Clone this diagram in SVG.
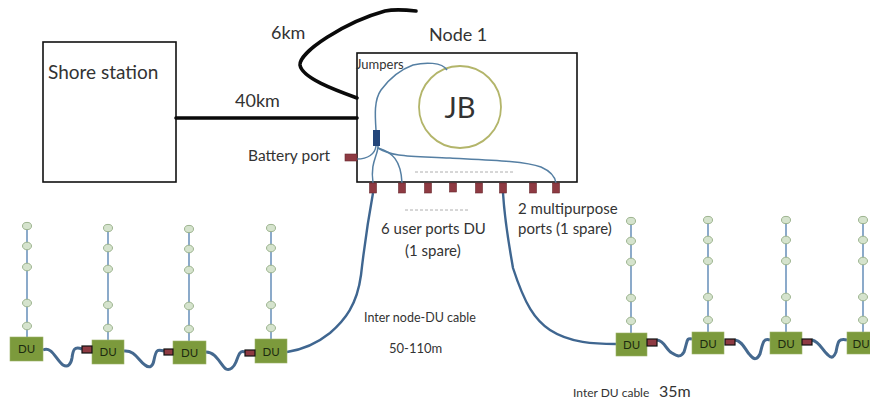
<svg xmlns="http://www.w3.org/2000/svg" width="870" height="405" viewBox="0 0 870 405">
<defs>
<style>
text{font-family:Lato,"Open Sans","Liberation Sans",sans-serif;fill:#333}
.box{fill:#fff;stroke:#111;stroke-width:1.6}
.thick{fill:none;stroke:#0a0a0a;stroke-width:3.6;stroke-linecap:round}
.thin{fill:none;stroke:#557fa3;stroke-width:1.5}
.cable{fill:none;stroke:#3f6690;stroke-width:2.4}
.wave{fill:none;stroke:#45698f;stroke-width:3}
.string{stroke:#6f95bd;stroke-width:1.6}
.bead{fill:#d5e3cd;stroke:#9db48f;stroke-width:1}
.du{fill:#7c9a3c;stroke:#9cb268;stroke-width:.6}
.dut{font-size:11.500px;fill:#1c2a10;text-anchor:middle}
.port{fill:#8e3a42;stroke:#6a2a30;stroke-width:.6}
.link{fill:#8e3a42;stroke:#111;stroke-width:1.2}
.dash{stroke:#999;stroke-width:.8;stroke-dasharray:3 2}
</style>
<g id="beads">
<line class="string" x1="0" y1="0" x2="0" y2="112"/>
<ellipse class="bead" cx="0" cy="0" rx="4.5" ry="3.6"/>
<ellipse class="bead" cx="0" cy="20" rx="4.5" ry="3.8"/>
<ellipse class="bead" cx="0" cy="41" rx="4.5" ry="3.8"/>
<ellipse class="bead" cx="0" cy="77" rx="4.5" ry="3.8"/>
<ellipse class="bead" cx="0" cy="100" rx="4.5" ry="3.8"/>
</g>
</defs>
<rect width="870" height="405" fill="#fff"/>

<g id="shore-station">
<rect class="box" x="43" y="42" width="133" height="140"/>
<text x="48" y="79" font-size="19">Shore station</text>
</g>

<g id="node-1">
<rect class="box" x="357" y="53" width="220" height="129"/>
<text x="429" y="41" font-size="18">Node 1</text>
<text x="356" y="69" font-size="13">Jumpers</text>
<circle cx="460" cy="107" r="41" fill="none" stroke="#b3b56a" stroke-width="1.8"/>
<text x="460" y="118" font-size="29" text-anchor="middle">JB</text>
<line class="dash" x1="415" y1="172" x2="515" y2="172"/>
</g>

<g id="connectors">
<path class="thick" d="M176 118H357"/>
<path class="thick" d="M357 98C335 90 302 78 300 65C299 52 345 22 385 11C395 9 407 10 416 11"/>
<path class="thin" d="M376 130C375 115 374 100 381 90C392 75 402 69 413 65C425 62 442 62 447 70"/>
<path class="thin" d="M376 146C375 154 368 159 357 159"/>
<path class="thin" d="M378 146C378 156 370 162 373 183"/>
<path class="thin" d="M378 148C392 152 401 160 402 183"/>
<path class="thin" d="M378 148C392 157 410 156 450 158C490 160 525 161 541 167C550 171 555 176 556 183"/>
<path class="cable" d="M373 193C369 215 365 240 361 275C357 305 345 320 330 333C315 345 300 350 287 352"/>
<path class="cable" d="M503 193C505 225 510 250 513 268C525 305 535 320 550 330C570 343 595 344 616 344"/>
<path class="wave" d="M43 350C52 346 56 360 63 365C68 368 71 364 72 358C73 350 74 346 82 349"/>
<path class="wave" d="M124 351C135 350 138 360 145 365C150 369 153 366 154 360C156 350 157 349 164 351"/>
<path class="wave" d="M206 352C216 352 220 364 226 369C230 371 234 367 236 362C239 354 240 350 245 352"/>
<path class="wave" d="M657 340C665 341 666 350 672 353C678 357 681 357 684 352C688 340 686 338 692 339"/>
<path class="wave" d="M735 340C743 341 745 350 750 355C754 360 757 360 760 354C763 343 763 338 770 340"/>
<path class="wave" d="M812 340C820 342 822 350 828 355C832 359 834 357 836 352C838 342 838 338 847 340"/>
</g>

<g id="ports">
<rect x="373" y="130" width="7" height="16" fill="#24467a"/>
<rect class="port" x="345" y="154" width="12" height="7"/>
<rect class="port" x="369.500" y="183" width="7" height="10"/>
<rect class="port" x="398.500" y="183" width="7" height="10"/>
<rect class="port" x="424.500" y="183" width="7" height="10"/>
<rect class="port" x="449.500" y="183" width="7" height="9"/>
<rect class="port" x="475.500" y="183" width="7" height="10"/>
<rect class="port" x="499.500" y="183" width="7" height="10"/>
<rect class="port" x="529.500" y="183" width="7" height="10"/>
<rect class="port" x="552.500" y="183" width="7" height="10"/>
</g>

<g id="labels">
<text x="235" y="107" font-size="18">40km</text>
<text x="271" y="39" font-size="18">6km</text>
<text x="248" y="161" font-size="15.500">Battery port</text>
<line class="dash" x1="405" y1="210" x2="468" y2="210"/>
<text x="381" y="234" font-size="15">6 user ports DU</text>
<text x="405" y="256" font-size="15">(1 spare)</text>
<text x="518" y="214" font-size="15">2 multipurpose</text>
<text x="518" y="234" font-size="15">ports (1 spare)</text>
<text x="364" y="322" font-size="12.500">Inter node-DU cable</text>
<text x="389" y="353" font-size="13">50-110m</text>
<text x="573" y="397" font-size="12">Inter DU cable</text>
<text x="659" y="397" font-size="16">35m</text>
</g>

<g id="du-l1"><use href="#beads" x="27" y="226"/><rect class="du" x="10" y="337" width="33" height="24"/><text class="dut" x="26.500" y="353">DU</text></g>
<g id="du-l2"><use href="#beads" x="108" y="228"/><rect class="du" x="92" y="340" width="32" height="24"/><text class="dut" x="108" y="356">DU</text><rect class="link" x="82" y="346" width="10" height="7"/></g>
<g id="du-l3"><use href="#beads" x="189" y="229"/><rect class="du" x="173" y="341" width="33" height="23"/><text class="dut" x="189.500" y="357">DU</text><rect class="link" x="164" y="349" width="9" height="6"/></g>
<g id="du-l4"><use href="#beads" x="271" y="228"/><rect class="du" x="255" y="339" width="32" height="24"/><text class="dut" x="271" y="356">DU</text><rect class="link" x="245" y="350" width="10" height="6"/></g>
<g id="du-r1"><use href="#beads" x="631" y="221"/><rect class="du" x="616" y="333" width="31" height="23"/><text class="dut" x="631.500" y="349">DU</text><rect class="link" x="647" y="339" width="10" height="7"/></g>
<g id="du-r2"><use href="#beads" x="708" y="220"/><rect class="du" x="692" y="332" width="32" height="22"/><text class="dut" x="708" y="348">DU</text><rect class="link" x="725" y="339" width="10" height="6"/></g>
<g id="du-r3"><use href="#beads" x="786" y="220"/><rect class="du" x="770" y="332" width="32" height="22"/><text class="dut" x="786" y="348">DU</text><rect class="link" x="802" y="339" width="10" height="6"/></g>
<g id="du-r4"><use href="#beads" x="863" y="220"/><rect class="du" x="847" y="332" width="33" height="22"/><text class="dut" x="861" y="348">DU</text></g>
</svg>
